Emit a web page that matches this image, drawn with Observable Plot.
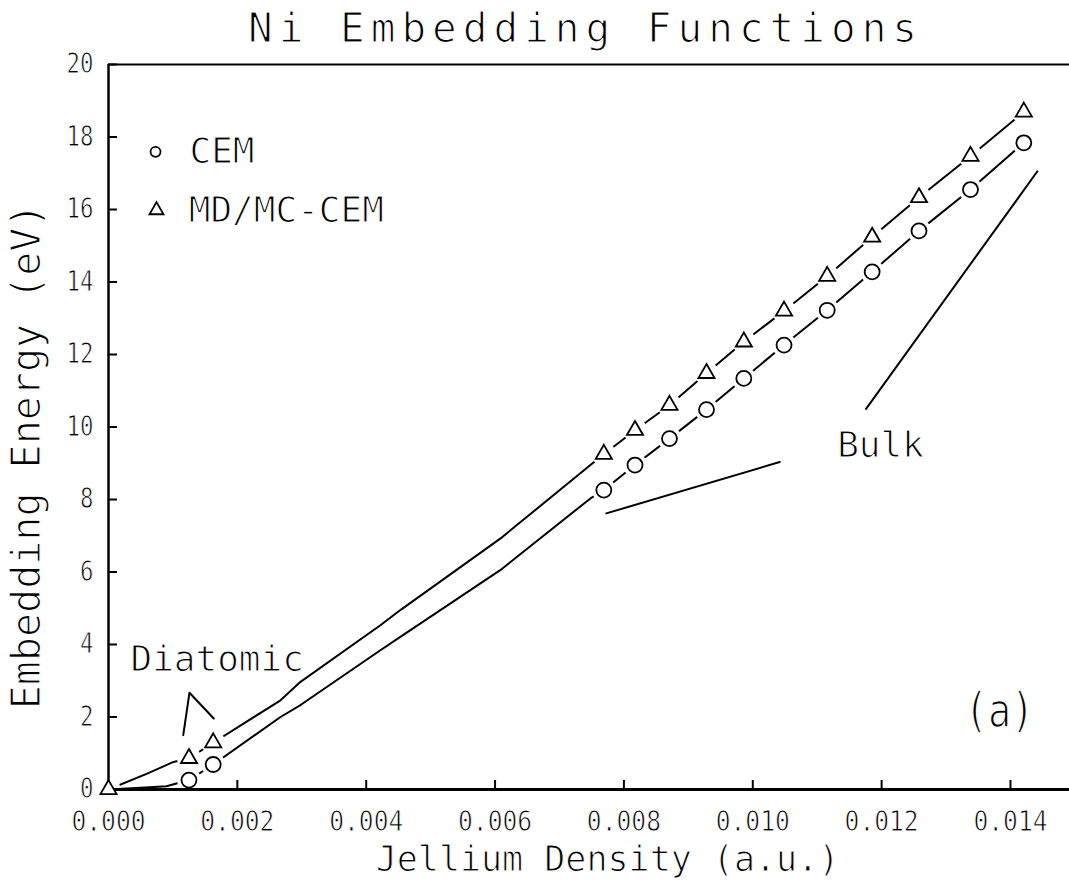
<!DOCTYPE html>
<html>
<head>
<meta charset="utf-8">
<script src="https://cdn.jsdelivr.net/npm/d3@7"></script>
<script src="https://cdn.jsdelivr.net/npm/@observablehq/plot@0.6"></script>
<style>
  html, body { margin: 0; padding: 0; background: #fff; }
  #title {
    height: 40px; line-height: 52px; overflow: visible; box-sizing: border-box;
    padding-top: 2px; padding-left: 102px; text-align: center;
    font-family: "DejaVu Sans Mono", monospace; font-size: 41px; letter-spacing: 6px;
    color: #000; -webkit-text-stroke: 0.03em #fff; paint-order: normal; white-space: pre;
  }
  #chart svg { overflow: visible; display: block; }
  #chart svg text { stroke: #fff; stroke-width: 0.03em; paint-order: normal; }
</style>
</head>
<body>
<div id="title">Ni Embedding Functions</div>
<div id="chart"></div>
<script>
// Tick values
const xTicks = [0, 0.002, 0.004, 0.006, 0.008, 0.010, 0.012, 0.014];
const yTicks = [0, 2, 4, 6, 8, 10, 12, 14, 16, 18, 20];

// CEM embedding energies (circles): two diatomic points, then bulk points
const cemDensity = [0.001249, 0.001625, 0.007688, 0.008172, 0.008707, 0.009282, 0.009861,
  0.010485, 0.011155, 0.011853, 0.012580, 0.013379, 0.014207];
const cemEnergy = [0.26, 0.69, 8.26, 8.95, 9.68, 10.48, 11.34, 12.26, 13.22, 14.28, 15.41, 16.55, 17.84];

// MD/MC-CEM embedding energies (triangles)
const mdmcDensity = [0, 0.001249, 0.001625, 0.007688, 0.008172, 0.008707, 0.009282, 0.009861,
  0.010485, 0.011155, 0.011853, 0.012580, 0.013379, 0.014207];
const mdmcEnergy = [0, 0.86, 1.29, 9.25, 9.91, 10.60, 11.48, 12.35, 13.20, 14.16, 15.24, 16.33, 17.47, 18.69];

// Continuous embedding-function curves between the computed points
const cemCurveDensity = [0, 0.0005, 0.0009, 0.00267, 0.00298, 0.00422, 0.00453, 0.00608, 0.00748];
const cemCurveEnergy = [0, 0.05, 0.09, 2.00, 2.33, 3.84, 4.21, 6.05, 8.03];
const mdmcCurveDensity = [0.0006, 0.00101, 0.00267, 0.00298, 0.00422, 0.00453, 0.00608, 0.00748];
const mdmcCurveEnergy = [0.44, 0.76, 2.46, 2.97, 4.53, 4.95, 6.92, 8.95];

// Annotation leader lines (density, energy)
const bulkLeaderStart = [[0.007714, 7.61], [0.01175, 10.48]];
const bulkLeaderEnd = [[0.01043, 9.04], [0.014424, 17.07]];
const diatomicLeader = [[0.00116, 1.50], [0.001257, 2.67], [0.001634, 1.96]];

const zip = (xs, ys) => xs.map((x, i) => ({x, y: ys[i]}));
const byX = (a, b) => a.x - b.x;

const cemPoints = zip(cemDensity, cemEnergy);
const mdmcPoints = zip(mdmcDensity, mdmcEnergy);
const cemLine = cemPoints.concat(zip(cemCurveDensity, cemCurveEnergy)).sort(byX);
const mdmcLine = mdmcPoints.concat(zip(mdmcCurveDensity, mdmcCurveEnergy)).sort(byX);
const bulkLeaders = bulkLeaderStart.map((s, i) => ({x1: s[0], y1: s[1], x2: bulkLeaderEnd[i][0], y2: bulkLeaderEnd[i][1]}));
const diatomicPath = diatomicLeader.map(([x, y]) => ({x, y}));

const font = "DejaVu Sans Mono";

const chart = Plot.plot({
  width: 1069,
  height: 843,
  marginLeft: 108,
  marginRight: 0,
  marginTop: 24,
  marginBottom: 94,
  style: {fontFamily: font, background: "#fff", color: "#000", overflow: "visible"},
  x: {domain: [0, 0.014916], axis: null},
  y: {domain: [0, 20], axis: null},
  marks: [
    // curves
    Plot.line(cemLine, {x: "x", y: "y", stroke: "#000", strokeWidth: 2}),
    Plot.line(mdmcLine, {x: "x", y: "y", stroke: "#000", strokeWidth: 2}),
    // white gaps around the computed points
    Plot.dot(cemPoints, {x: "x", y: "y", r: 12, fill: "#fff", stroke: null}),
    Plot.dot(mdmcPoints, {x: "x", y: "y", r: 12, fill: "#fff", stroke: null}),
    // frame: left axis, bottom axis, top border
    Plot.ruleX([0], {stroke: "#000", strokeWidth: 2.5}),
    Plot.ruleY([0], {stroke: "#000", strokeWidth: 3}),
    Plot.ruleY([20], {stroke: "#000", strokeWidth: 2}),
    // inward tick marks
    Plot.ruleX(xTicks.slice(1), {x: d => d, insetTop: 716, stroke: "#000", strokeWidth: 2}),
    Plot.ruleY(yTicks.slice(1), {y: d => d, insetRight: 952, stroke: "#000", strokeWidth: 2}),
    Plot.axisX({ticks: xTicks, tickSize: 0, tickPadding: 22, tickFormat: d3.format(".3f"), fontSize: 28, label: null}),
    Plot.axisY({ticks: yTicks, tickSize: 0, tickPadding: 15, tickFormat: d3.format("d"), fontSize: 28, label: null}),
    // markers
    Plot.dot(cemPoints, {x: "x", y: "y", symbol: "circle", r: 7.5, fill: "#fff", stroke: "#000", strokeWidth: 1.8}),
    Plot.dot(mdmcPoints, {x: "x", y: "y", symbol: "triangle", r: 6, fill: "#fff", stroke: "#000", strokeWidth: 1.8}),
    // legend
    Plot.dot([{x: 0.00073, y: 17.59}], {x: "x", y: "y", symbol: "circle", r: 5, stroke: "#000", strokeWidth: 1.8}),
    Plot.dot([{x: 0.000745, y: 15.98}], {x: "x", y: "y", symbol: "triangle", r: 5.2, stroke: "#000", strokeWidth: 1.8}),
    Plot.text(["CEM"], {x: 0.001257, y: 17.59, text: d => d, textAnchor: "start", fontSize: 36}),
    Plot.text(["MD/MC-CEM"], {x: 0.001246, y: 15.98, text: d => d, textAnchor: "start", fontSize: 36}),
    // annotations
    Plot.link(bulkLeaders, {x1: "x1", y1: "y1", x2: "x2", y2: "y2", stroke: "#000", strokeWidth: 2}),
    Plot.line(diatomicPath, {x: "x", y: "y", stroke: "#000", strokeWidth: 2}),
    Plot.text(["Bulk"], {x: 0.01131, y: 9.50, text: d => d, textAnchor: "start", fontSize: 36}),
    Plot.text(["Diatomic"], {x: 0.000341, y: 3.58, text: d => d, textAnchor: "start", fontSize: 36}),
    Plot.text(["(a)"], {x: 0.01383, y: 2.16, text: d => d, fontSize: 48}),
    // axis titles
    Plot.text(["Jellium Density (a.u.)"], {x: 0.007745, y: -1.95, text: d => d, fontSize: 35}),
    Plot.text(["Embedding Energy (eV)"], {x: -0.001257, y: 9.19, text: d => d, rotate: -90, fontSize: 40})
  ]
});

// Narrow the glyphs of the tick labels and the panel letter horizontally
function squeeze(selection, sx) {
  selection.each(function() {
    const t = this.getAttribute("transform") || "";
    this.setAttribute("transform", `${t} scale(${sx},1)`);
  });
}
const svg = d3.select(chart);
squeeze(svg.selectAll('g[aria-label="x-axis tick label"] text'), 0.88);
squeeze(svg.selectAll('g[aria-label="y-axis tick label"] text'), 0.8);
squeeze(svg.selectAll("text").filter(function() { return this.textContent === "(a)"; }), 0.8);

document.getElementById("chart").append(chart);
</script>
</body>
</html>
